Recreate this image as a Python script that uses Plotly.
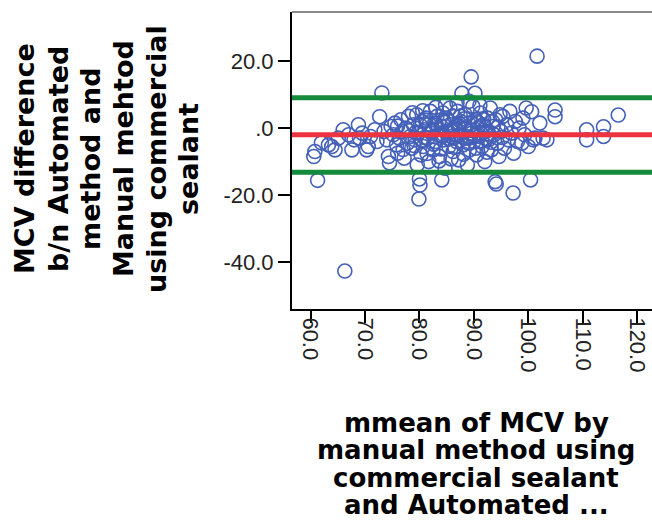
import plotly.graph_objects as go

# ---- data ----
mean_mcv = [
    60.6, 60.8, 61.3, 62.0, 63.3, 63.9, 64.5, 65.1, 66.0, 66.3, 67.0, 67.6, 68.0, 68.8, 69.0, 69.5,
    70.3, 70.6, 71.0, 71.8, 72.2, 72.7, 73.1, 73.5, 74.0, 74.3, 74.5, 74.8,
    75.2, 75.5, 75.8, 76.0, 76.3, 76.6, 76.9, 77.2, 77.5, 77.8, 78.0, 78.3, 78.6, 78.9, 79.2, 79.5,
    79.6, 79.8, 79.9, 80.0, 80.1, 80.3, 80.5, 80.7, 81.0, 81.2, 81.5, 81.7, 82.0, 82.2, 82.5, 82.8,
    83.0, 83.2, 83.5, 83.7, 84.0, 84.1, 84.3, 84.5, 84.7, 85.0, 85.2, 85.4, 85.6, 85.8, 86.0, 86.2,
    86.4, 86.6, 86.8, 87.0, 87.2, 87.4, 87.6, 87.8, 88.0, 88.2, 88.4, 88.6, 88.8, 89.0, 89.2, 89.5,
    89.6, 89.8, 90.0, 90.2, 90.3, 90.5, 90.7, 91.0, 91.2, 91.5, 91.7, 92.0, 92.2, 92.5, 92.7, 93.0,
    93.2, 93.5, 93.7, 93.9, 94.0, 94.1, 94.3, 94.6, 94.8, 95.0,
    78.1, 79.0, 80.2, 80.9, 81.8, 82.6, 83.3, 83.9, 84.6, 85.3, 85.9, 86.5, 87.1, 87.7, 88.3, 88.9,
    89.4, 90.1, 90.8, 91.4, 92.1, 92.8, 93.4, 81.4, 83.6, 85.8, 88.1, 90.4, 92.4, 84.8, 86.9, 89.1,
    91.1, 83.0, 80.6, 78.7, 77.0, 76.0,
    79.4, 80.4, 81.1, 82.3, 83.1, 84.2, 84.9, 85.5, 86.3, 87.3, 88.5, 89.3, 90.6, 91.3, 92.3, 82.9,
    84.4, 86.1, 87.5, 89.7, 91.8, 93.1, 94.4, 95.2,
    95.3, 95.6, 96.0, 96.3, 96.6, 96.9, 97.2, 97.3, 97.6, 98.0, 98.3, 98.8, 99.0, 99.3, 99.6, 100.0,
    100.4, 100.6, 100.9, 101.2, 101.6, 102.1, 102.7, 103.4, 104.9, 104.9, 110.7, 110.7, 113.8, 113.8,
    116.5,
]
diff_mcv = [
    -8.5, -7.0, -15.6, -4.4, -5.0, -5.5, -6.5, -3.0, -0.5, -42.7, -2.0, -6.5, -3.5, 1.0, -3.0, -1.5,
    -6.5, -5.5, -2.5, -0.5, -4.0, 3.4, 10.5, -1.0, -3.5, -8.5, -10.4, 0.5,
    -2.0, 1.5, -5.0, -7.5, -3.0, 2.5, -1.0, -9.0, 0.0, -4.5, 3.5, -2.5, -6.0, 1.0, -3.5, 4.0,
    -11.0, -1.5, -21.2, -15.2, -17.0, -8.0, 2.0, -5.5, -0.5, 3.0, -3.0, -10.0, 5.0, -1.5, -6.5, 1.5,
    -4.0, 3.5, -2.0, -8.5, 0.5, -15.5, 4.5, -3.5, -12.0, -1.0, 2.5, -5.5, 6.0, -2.5, 1.0, -7.0,
    3.5, -0.5, -4.0, 5.0, -9.5, -2.0, 2.0, 10.4, -5.0, 0.0, 4.0, -3.0, -11.0, 1.5, -6.5, 15.3,
    -1.5, 6.5, -4.0, 10.4, 2.5, -8.0, 0.0, -2.5, 4.5, -5.5, 1.0, -10.0, -1.0, 3.0, -3.5, 6.0,
    -6.5, 0.5, -2.0, -16.0, 2.5, -16.7, -4.5, -8.5, 4.0, -1.0,
    -0.8, -5.2, 0.8, -2.8, 1.2, -4.8, -0.2, -6.2, 1.8, -3.2, -0.4, -5.8, 0.6, -2.6, 2.8, -4.4,
    -0.6, -2.2, 1.6, -3.8, 0.2, -1.8, 2.0, -7.6, -9.8, -9.2, -7.8, -6.0, -7.2, 7.0, 7.5, 8.0,
    6.8, 6.2, 5.2, 4.6, -6.4, 0.6,
    -1.2, -3.6, 2.4, -0.9, 0.9, -2.4, 3.0, -1.4, -3.0, 1.4, -0.3, -2.9, 1.9, -1.6, -3.3, -2.6,
    2.2, -1.1, 3.6, -0.7, 2.6, -4.2, 0.3, -2.8,
    3.5, -6.0, 1.0, -3.5, 5.0, -1.5, -19.4, -7.5, 2.0, -4.0, 0.0, -4.5, 3.0, -2.0, 6.0, -5.5,
    -15.5, 4.9, -3.5, -3.0, 21.5, 1.5, -3.0, -3.5, 5.4, 3.4, -0.5, -3.5, 0.4, -2.5,
    3.9,
]
mean_diff = -2.0
upper_loa = 9.1
lower_loa = -13.2
x_span = [56.6, 122.7]
y_span = [-54.05, 34.7]

x_tickvals = [60, 70, 80, 90, 100, 110, 120]
x_ticktext = ["60.0", "70.0", "80.0", "90.0", "100.0", "110.0", "120.0"]
y_tickvals = [20, 0, -20, -40]
y_ticktext = ["20.0", ".0", "-20.0", "-40.0"]

y_title_lines = ["MCV difference", "b/n Automated", "method and",
                 "Manual mehtod", "using commercial", "sealant"]
x_title_lines = ["mmean of MCV by", "manual method using",
                 "commercial sealant", "and Automated ..."]

# ---- figure ----
W, H = 652, 521
L, R, T, B = 292, 0, 12, 212
pw, ph = W - L - R, H - T - B

fig = go.Figure()
fig.add_trace(go.Scatter(
    x=mean_mcv, y=diff_mcv, mode="markers",
    marker=dict(symbol="circle-open", size=14, color="#4460b8",
                line=dict(width=1.6, color="#4460b8")),
    hoverinfo="skip"))
for val, col in [(upper_loa, "#138a3c"), (lower_loa, "#138a3c"), (mean_diff, "#ec3340")]:
    fig.add_trace(go.Scatter(x=x_span, y=[val, val], mode="lines",
                             line=dict(color=col, width=5), hoverinfo="skip"))

def px_x(p):
    return (p - L) / pw

def px_y(p):
    return (H - B - p) / ph

annotations = []
y_centers_x = [24, 58, 90, 123, 156, 188]
for line, cx in zip(y_title_lines, y_centers_x):
    annotations.append(dict(text="<b>" + line + "</b>", xref="paper", yref="paper",
                            x=px_x(cx), y=px_y(159),
                            xanchor="center", yanchor="middle", textangle=-90, showarrow=False,
                            borderpad=0,
                            font=dict(family="DejaVu Sans", size=27, color="#000000")))
x_centers_y = [423, 450, 478, 505]
for line, cy in zip(x_title_lines, x_centers_y):
    annotations.append(dict(text="<b>" + line + "</b>", xref="paper", yref="paper",
                            x=px_x(476), y=px_y(cy),
                            xanchor="center", yanchor="middle", showarrow=False, borderpad=0,
                            font=dict(family="DejaVu Sans", size=26, color="#000000")))

fig.update_layout(
    width=W, height=H,
    margin=dict(l=L, r=R, t=T, b=B, pad=0),
    paper_bgcolor="white", plot_bgcolor="white",
    showlegend=False, hovermode=False,
    annotations=annotations,
    shapes=[dict(type="line", xref="paper", yref="paper", x0=0, x1=1, y0=1, y1=1,
                 line=dict(color="#8a8a8a", width=2))],
    xaxis=dict(range=x_span, tickvals=x_tickvals, ticktext=x_ticktext, tickangle=90,
               ticklabelstandoff=-10,
               showgrid=False, zeroline=False, showline=True, linecolor="#000000", linewidth=2,
               ticks="outside", ticklen=12, tickwidth=2, tickcolor="#000000",
               tickfont=dict(family="Liberation Sans", size=22, color="#222222")),
    yaxis=dict(range=y_span, tickvals=y_tickvals, ticktext=y_ticktext,
               showgrid=False, zeroline=False, showline=True, linecolor="#000000", linewidth=2,
               ticks="outside", ticklen=12, tickwidth=2, tickcolor="#000000",
               tickfont=dict(family="Liberation Sans", size=22, color="#222222")),
)

fig.write_html("out.html", config={"displayModeBar": False})
